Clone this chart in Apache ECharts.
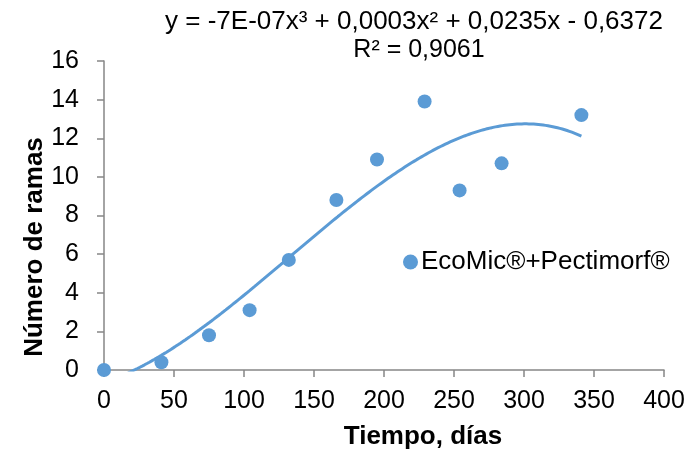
<!DOCTYPE html>
<html>
<head>
<meta charset="utf-8">
<script src="https://cdn.jsdelivr.net/npm/echarts@6/dist/echarts.min.js"></script>
<style>
  html, body { margin: 0; padding: 0; background: #fff; }
  #chart { width: 694px; height: 454px; }
</style>
</head>
<body>
<div id="chart"></div>
<script>
// Observations: time (days) and number of branches
const dias = [0, 41, 75, 104, 132, 166, 195, 229, 254, 284, 341];
const ramas = [0, 0.4, 1.8, 3.1, 5.7, 8.8, 10.9, 13.9, 9.3, 10.7, 13.2];
const xTicks = [0, 50, 100, 150, 200, 250, 300, 350, 400];
const yTicks = [0, 2, 4, 6, 8, 10, 12, 14, 16];
const serieNombre = 'EcoMic®+Pectimorf®';
const ecuacion = 'y = -7E-07x³ + 0,0003x² + 0,0235x - 0,6372';
const r2Texto = 'R² = 0,9061';

// Least-squares cubic polynomial fit (x scaled for numerical stability)
function polyFit(xs, ys, deg) {
  const s = 100;
  const n = deg + 1;
  const A = [];
  for (let i = 0; i < n; i++) {
    A.push(new Array(n + 1).fill(0));
  }
  xs.forEach((x0, k) => {
    const x = x0 / s;
    for (let i = 0; i < n; i++) {
      for (let j = 0; j < n; j++) A[i][j] += Math.pow(x, i + j);
      A[i][n] += ys[k] * Math.pow(x, i);
    }
  });
  for (let c = 0; c < n; c++) {
    let p = c;
    for (let r = c + 1; r < n; r++) if (Math.abs(A[r][c]) > Math.abs(A[p][c])) p = r;
    [A[c], A[p]] = [A[p], A[c]];
    for (let r = 0; r < n; r++) {
      if (r === c) continue;
      const f = A[r][c] / A[c][c];
      for (let k = c; k <= n; k++) A[r][k] -= f * A[c][k];
    }
  }
  const coef = A.map((row, i) => row[n] / row[i]);
  return x => coef.reduce((acc, a, i) => acc + a * Math.pow(x / s, i), 0);
}

const fit = polyFit(dias, ramas, 3);
const xMin = Math.min(...dias), xMax = Math.max(...dias);
const tendencia = [];
for (let i = 0; i <= 200; i++) {
  const x = xMin + (xMax - xMin) * i / 200;
  tendencia.push([x, fit(x)]);
}

const azul = '#5B9BD5';
const ejeColor = '#868686';
const fuente = '"Liberation Sans", Arial, sans-serif';

const chart = echarts.init(document.getElementById('chart'), null, { renderer: 'canvas' });
chart.setOption({
  animation: false,
  grid: { left: 104, right: 30, top: 61, bottom: 84 },
  xAxis: {
    type: 'value',
    min: xTicks[0], max: xTicks[xTicks.length - 1], interval: xTicks[1] - xTicks[0],
    axisLine: { show: true, lineStyle: { color: ejeColor, width: 1.5 } },
    axisTick: { show: true, inside: false, length: 7, lineStyle: { color: ejeColor, width: 1.5 } },
    axisLabel: { color: '#000', fontFamily: fuente, fontSize: 25, margin: 19 },
    splitLine: { show: false }
  },
  yAxis: {
    type: 'value',
    min: yTicks[0], max: yTicks[yTicks.length - 1], interval: yTicks[1] - yTicks[0],
    axisLine: { show: true, lineStyle: { color: ejeColor, width: 1.5 } },
    axisTick: { show: true, inside: false, length: 7, lineStyle: { color: ejeColor, width: 1.5 } },
    axisLabel: { color: '#000', fontFamily: fuente, fontSize: 25, margin: 25 },
    splitLine: { show: false }
  },
  legend: {
    show: true,
    data: [{ name: serieNombre, icon: 'circle' }],
    left: 398, top: 244,
    itemWidth: 15, itemHeight: 15, itemGap: 0,
    textStyle: { color: '#000', fontFamily: fuente, fontSize: 26, padding: [0, 0, 0, -2] }
  },
  series: [
    {
      name: 'Polinómica',
      type: 'line',
      data: tendencia,
      showSymbol: false,
      clip: true,
      smooth: false,
      lineStyle: { color: azul, width: 3 },
      z: 2
    },
    {
      name: serieNombre,
      type: 'scatter',
      data: dias.map((d, i) => [d, ramas[i]]),
      symbol: 'circle',
      symbolSize: 14,
      itemStyle: { color: azul, opacity: 1 },
      clip: false,
      z: 3
    }
  ],
  graphic: [
    {
      type: 'text',
      x: 414, y: 22,
      style: { text: ecuacion, fill: '#000', font: '26px ' + fuente, textAlign: 'center', textVerticalAlign: 'middle' }
    },
    {
      type: 'text',
      x: 419, y: 50,
      style: { text: r2Texto, fill: '#000', font: '25px ' + fuente, textAlign: 'center', textVerticalAlign: 'middle' }
    },
    {
      type: 'text',
      x: 423, y: 437,
      style: { text: 'Tiempo, días', fill: '#000', font: 'bold 26px ' + fuente, textAlign: 'center', textVerticalAlign: 'middle' }
    },
    {
      type: 'text',
      x: 35, y: 247, rotation: Math.PI / 2,
      style: { text: 'Número de ramas', fill: '#000', font: 'bold 26px ' + fuente, textAlign: 'center', textVerticalAlign: 'middle' }
    }
  ]
});
</script>
</body>
</html>
